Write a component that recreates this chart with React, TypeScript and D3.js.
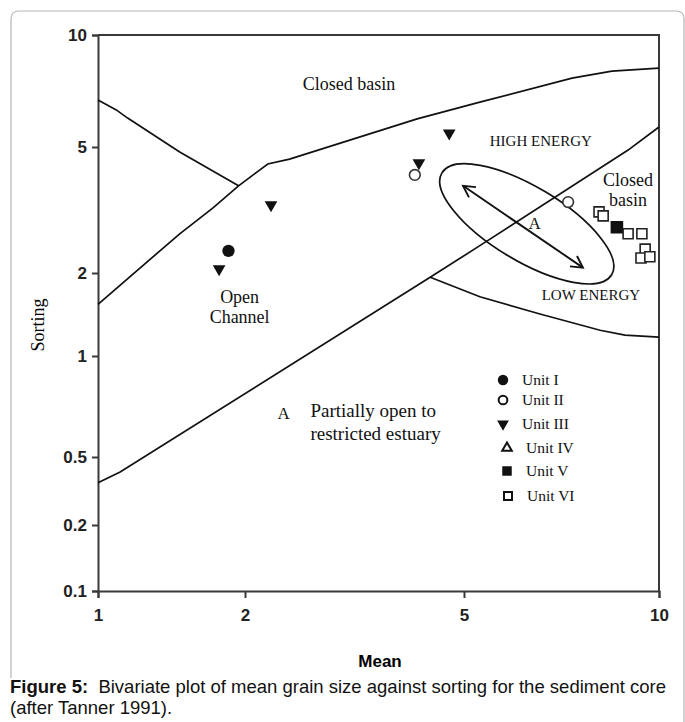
import React, { useEffect, useRef } from "react";
import * as d3 from "d3";

// axis ticks (mean on x, sorting on y)
const xTicks = [1, 2, 5, 10];
const yTicks = [0.1, 0.2, 0.5, 1, 2, 5, 10];

// field boundaries, [mean, sorting]
const closedBasinEdge = [
  [1, 1.54], [1.47, 2.66], [1.72, 3.21], [1.94, 3.77], [2.2, 4.42], [2.41, 4.58],
  [4.11, 5.95], [5.29, 6.6], [7.34, 7.66], [8.46, 8.0], [10, 8.15],
];
const openChannelEdge = [[1, 6.69], [1.09, 6.29], [1.15, 5.98], [1.47, 4.82], [1.94, 3.77]];
const estuaryEdge = [[1, 0.353], [1.11, 0.408], [4.34, 1.93], [5.29, 2.44], [8.96, 4.89], [10, 5.66]];
const lowEnergyEdge = [[4.34, 1.93], [5.29, 1.64], [6.55, 1.42], [8.11, 1.24], [8.86, 1.19], [10, 1.17]];

// the "A" ellipse and its trend arrow
const ellipseCenter = [6.25, 2.86];
const trendArrow = [[4.98, 3.77], [7.63, 2.08]];

// samples per unit
const unitI = [[1.85, 2.35]];
const unitII = [[4.07, 4.08], [7.24, 3.35]];
const unitIII = [[1.77, 2.06], [2.23, 3.28], [4.14, 4.45], [4.7, 5.45]];
const unitIV: number[][] = [];
const unitV = [[8.61, 2.79]];
const unitVI = [[8.08, 3.12], [8.2, 3.03], [8.96, 2.66], [9.41, 2.66], [9.52, 2.38], [9.38, 2.23], [9.68, 2.25]];

const legendNames = ["Unit I", "Unit II", "Unit III", "Unit IV", "Unit V", "Unit VI"];

// area labels: text lines, mean, sorting
const areaLabels = [
  { lines: ["Closed basin"], at: [3.09, 7.11], size: 18 },
  { lines: ["HIGH ENERGY"], at: [6.57, 5.03], size: 15 },
  { lines: ["Closed", "basin"], at: [8.96, 3.77], size: 18 },
  { lines: ["A"], at: [6.43, 2.75], size: 17 },
  { lines: ["LOW ENERGY"], at: [7.85, 1.6], size: 15 },
  { lines: ["Open", "Channel"], at: [1.95, 1.56], size: 18 },
  { lines: ["A"], at: [2.35, 0.649], size: 17 },
];
const estuaryLabel = { lines: ["Partially open to", "restricted estuary"], at: [2.63, 0.658] };

const serif = "'Liberation Serif', 'Times New Roman', serif";
const sans = "'Liberation Sans', Arial, sans-serif";

export default function App() {
  const svgRef = useRef(null);

  useEffect(() => {
    const svg = d3.select(svgRef.current);
    svg.selectAll("*").remove();

    const x = d3.scaleLog().domain(xTicks).range([98, 245, 464, 659]);
    const y = d3.scaleLog().domain(yTicks).range([591, 525, 457, 356, 273, 147, 35]);

    // figure frame
    svg
      .append("path")
      .attr("d", "M11,678 V19 Q11,11 19,11 H676 Q684,11 684,19 V740")
      .attr("fill", "none")
      .attr("stroke", "#b5b5b5")
      .attr("stroke-width", 1.2);

    //axes
    const axisColor = "#3a3a3a";
    const yAxis = d3.axisLeft(y).tickValues(yTicks).tickFormat((d) => String(d)).tickSize(6).tickPadding(5);
    const gy = svg.append("g").attr("transform", "translate(98,0)").call(yAxis);
    const xAxis = d3.axisBottom(x).tickValues(xTicks).tickFormat((d) => String(d)).tickSize(7).tickPadding(11);
    const gx = svg.append("g").attr("transform", "translate(0,591)").call(xAxis);
    [gx, gy].forEach((g) => {
      g.selectAll("path, line").attr("stroke", axisColor).attr("stroke-width", 2);
      g.selectAll("text")
        .attr("fill", "#222")
        .style("font-family", sans)
        .style("font-size", "17px")
        .style("font-weight", "bold");
    });
    // top and right frame of the plot
    svg
      .append("path")
      .attr("d", `M${x(1)},${y(10)}H${x(10)}V${y(0.1)}`)
      .attr("fill", "none")
      .attr("stroke", axisColor)
      .attr("stroke-width", 2);

    svg
      .append("text")
      .attr("transform", "translate(44,325) rotate(-90)")
      .attr("text-anchor", "middle")
      .style("font-family", serif)
      .style("font-size", "18px")
      .text("Sorting");

    svg
      .append("text")
      .attr("x", 380)
      .attr("y", 667)
      .attr("text-anchor", "middle")
      .style("font-family", sans)
      .style("font-size", "17px")
      .style("font-weight", "bold")
      .text("Mean");

    // boundaries
    const line = d3
      .line()
      .x((d) => x(d[0]))
      .y((d) => y(d[1]));
    [closedBasinEdge, openChannelEdge, estuaryEdge, lowEnergyEdge].forEach((edge) => {
      svg
        .append("path")
        .attr("d", line(edge))
        .attr("fill", "none")
        .attr("stroke", "#111")
        .attr("stroke-width", 1.7);
    });

    // ellipse and double arrow
    svg
      .append("ellipse")
      .attr("transform", `translate(${x(ellipseCenter[0])},${y(ellipseCenter[1])}) rotate(31)`)
      .attr("rx", 99)
      .attr("ry", 37)
      .attr("fill", "none")
      .attr("stroke", "#111")
      .attr("stroke-width", 1.7);

    const [p0, p1] = trendArrow.map((d) => [x(d[0]), y(d[1])]);
    svg
      .append("path")
      .attr("d", line(trendArrow))
      .attr("fill", "none")
      .attr("stroke", "#111")
      .attr("stroke-width", 1.9);
    const ang = Math.atan2(p1[1] - p0[1], p1[0] - p0[0]);
    const head = (tip, dir) => {
      const a1 = dir + Math.PI - 0.5;
      const a2 = dir + Math.PI + 0.5;
      const len = 13;
      return `M${tip[0] + len * Math.cos(a1)},${tip[1] + len * Math.sin(a1)}L${tip[0]},${tip[1]}L${
        tip[0] + len * Math.cos(a2)
      },${tip[1] + len * Math.sin(a2)}`;
    };
    svg
      .append("path")
      .attr("d", head(p1, ang) + head(p0, ang + Math.PI))
      .attr("fill", "none")
      .attr("stroke", "#111")
      .attr("stroke-width", 1.9);

    // area labels
    areaLabels.forEach((lab) => {
      const t = svg
        .append("text")
        .attr("text-anchor", "middle")
        .style("font-family", serif)
        .style("font-size", lab.size + "px")
        .attr("fill", "#111");
      lab.lines.forEach((s, i) => {
        t.append("tspan")
          .attr("x", x(lab.at[0]))
          .attr("y", y(lab.at[1]) + i * 20)
          .text(s);
      });
    });
    const et = svg
      .append("text")
      .style("font-family", serif)
      .style("font-size", "19px")
      .attr("fill", "#111");
    estuaryLabel.lines.forEach((s, i) => {
      et.append("tspan")
        .attr("x", x(estuaryLabel.at[0]))
        .attr("y", y(estuaryLabel.at[1]) + i * 23)
        .text(s);
    });

    // markers
    const sym = (type, size) => d3.symbol().type(type).size(size)();
    const units = [
      { data: unitI, d: sym(d3.symbolCircle, 120), fill: "#111", stroke: "none", rot: 0 },
      { data: unitII, d: sym(d3.symbolCircle, 90), fill: "#fff", stroke: "#333", rot: 0 },
      { data: unitIII, d: sym(d3.symbolTriangle, 70), fill: "#111", stroke: "none", rot: 180 },
      { data: unitIV, d: sym(d3.symbolTriangle, 55), fill: "#fff", stroke: "#111", rot: 0 },
      { data: unitV, d: sym(d3.symbolSquare, 121), fill: "#111", stroke: "#111", rot: 0 },
      { data: unitVI, d: sym(d3.symbolSquare, 100), fill: "#fff", stroke: "#222", rot: 0 },
    ];
    units.forEach((u) => {
      svg
        .append("g")
        .selectAll("path")
        .data(u.data)
        .enter()
        .append("path")
        .attr("d", u.d)
        .attr("transform", (d) => `translate(${x(d[0])},${y(d[1])}) rotate(${u.rot})`)
        .attr("fill", u.fill)
        .attr("stroke", u.stroke)
        .attr("stroke-width", 1.6);
    });

    // legend
    const legendRows = [380, 400, 424, 448, 471, 496];
    const legendSyms = [
      { d: sym(d3.symbolCircle, 85), fill: "#111", stroke: "none", rot: 0, x: 503 },
      { d: sym(d3.symbolCircle, 60), fill: "#fff", stroke: "#111", rot: 0, x: 503 },
      { d: sym(d3.symbolTriangle, 60), fill: "#111", stroke: "none", rot: 180, x: 503 },
      { d: sym(d3.symbolTriangle, 40), fill: "#fff", stroke: "#111", rot: 0, x: 507 },
      { d: sym(d3.symbolSquare, 90), fill: "#111", stroke: "none", rot: 0, x: 507 },
      { d: sym(d3.symbolSquare, 64), fill: "#fff", stroke: "#111", rot: 0, x: 508 },
    ];
    const lg = svg.append("g");
    legendNames.forEach((name, i) => {
      const s = legendSyms[i];
      lg.append("path")
        .attr("d", s.d)
        .attr("transform", `translate(${s.x},${legendRows[i]}) rotate(${s.rot})`)
        .attr("fill", s.fill)
        .attr("stroke", s.stroke)
        .attr("stroke-width", 2);
      lg.append("text")
        .attr("x", s.x + 19)
        .attr("y", legendRows[i] + 5)
        .style("font-family", serif)
        .style("font-size", "15.5px")
        .attr("fill", "#111")
        .text(name);
    });

    // caption
    const cap = svg
      .append("text")
      .attr("x", 10)
      .attr("y", 693)
      .style("font-family", sans)
      .style("font-size", "18.5px")
      .attr("fill", "#111");
    cap.append("tspan").style("font-weight", "bold").text("Figure 5:");
    cap.append("tspan").text("\u00a0 Bivariate plot of mean grain size against sorting for the sediment core");
    svg
      .append("text")
      .attr("x", 10)
      .attr("y", 714)
      .style("font-family", sans)
      .style("font-size", "18.5px")
      .attr("fill", "#111")
      .text("(after Tanner 1991).");
  }, []);

  return (
    <svg
      ref={svgRef}
      width={685}
      height={722}
      style={{ position: "absolute", left: 0, top: 0, background: "#fff" }}
    ></svg>
  );
}
